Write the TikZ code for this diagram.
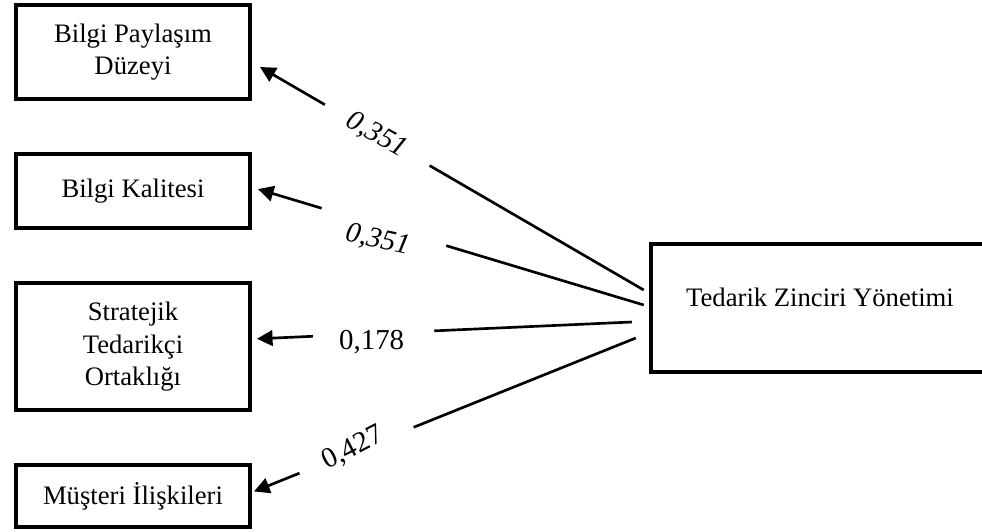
\documentclass[tikz,border=0pt]{standalone}
\usepackage{fontspec}
\setmainfont{Liberation Serif}
\usetikzlibrary{arrows.meta}
\usetikzlibrary{positioning}
\usetikzlibrary{calc}

\begin{document}
\begin{tikzpicture}[x=0.45pt, y=-0.45pt,
			boxnode/.style={rectangle, draw=black, line width=1.8pt, minimum width=105.3pt, align=center, font=\fontsize{12}{14.6}\selectfont},
			coefnode/.style={inner sep=1pt, font=\fontsize{13}{15}\selectfont},
			linkline/.style={line width=1.2pt},
			linkarrow/.style={line width=1.2pt, -{Triangle[length=7pt,width=7pt]}},
			]
			\useasboundingbox (0,0) rectangle (982,531);
			\clip (-20,-20) rectangle (1010,551);
			%Nodes
			\node[boxnode, minimum height=42.3pt] (BilgiPaylasim) at (133,52) {Bilgi Paylaşım\\Düzeyi};
			\node[boxnode, minimum height=33.3pt] (BilgiKalitesi) [below=23pt of BilgiPaylasim] {Bilgi Kalitesi};
			\node[boxnode, minimum height=57.2pt] (TedarikciOrtak) [below=23pt of BilgiKalitesi] {Stratejik\\Tedarikçi\\Ortaklığı};
			\node[boxnode, minimum height=27.9pt] (Musteri) [below=23pt of TedarikciOrtak] {Müşteri İlişkileri};
			\node[boxnode, minimum width=200pt, minimum height=57.6pt] (TZY) at (873,308) {};
			\node[font=\fontsize{12}{14.6}\selectfont] (TZYtext) at (820,297) {Tedarik Zinciri Yönetimi};
			
			\coordinate (t1) at ($(TZY.west)+(-5,-18)$);
			\coordinate (t2) at ($(TZY.west)+(-5,-3)$);
			\coordinate (t3) at ($(TZY.west)+(-17,14)$);
			\coordinate (t4) at ($(TZY.west)+(-13,30)$);
			\coordinate (a1) at ($(BilgiPaylasim.east)+(8,15)$);
			\coordinate (a2) at ($(BilgiKalitesi.east)+(6,-2)$);
			\coordinate (a3) at ($(TedarikciOrtak.east)+(5,-8)$);
			\coordinate (a4) at ($(Musteri.east)+(2,-5)$);
			
			\node[coefnode, rotate=-29] (c1) at ($(t1)!.696!(a1)$) {\itshape 0,351};
			\node[coefnode, rotate=-12] (c2) at ($(t2)!.69!(a2)+(0,15)$) {\itshape 0,351};
			\node[coefnode] (c3) at ($(t3)!.694!(a3)+(0,8)$) {0,178};
			\node[coefnode, rotate=27] (c4) at ($(t4)!.74!(a4)+(0,-3)$) {0,427};
			
			%Lines
			\draw[linkline] (t1) -- ($(t1)!.558!(a1)$);
			\draw[linkarrow] ($(t1)!.831!(a1)$) -- (a1);
			\draw[linkline] (t2) -- ($(t2)!.512!(a2)$);
			\draw[linkarrow] ($(t2)!.835!(a2)$) -- (a2);
			\draw[linkline] (t3) -- ($(t3)!.527!(a3)$);
			\draw[linkarrow] ($(t3)!.851!(a3)$) -- (a3);
			\draw[linkline] (t4) -- ($(t4)!.582!(a4)$);
			\draw[linkarrow] ($(t4)!.881!(a4)$) -- (a4);
		\end{tikzpicture}
\end{document}
